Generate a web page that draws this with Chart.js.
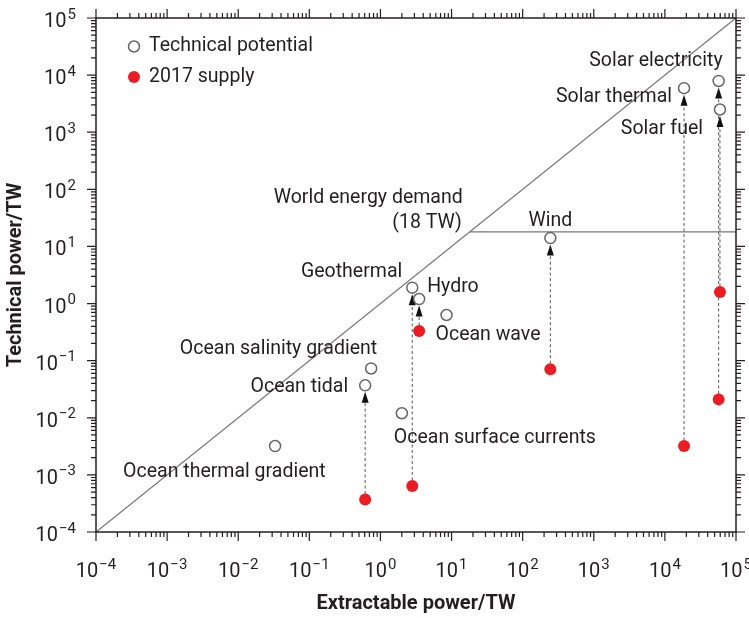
<!DOCTYPE html>
<html lang="en">
<head>
  <meta charset="UTF-8">
  <title>Technical potential vs extractable power</title>
  <script src="https://cdn.jsdelivr.net/npm/chart.js"></script>
  <style>
    body { margin: 0; background: #fff; }
    #wrap { width: 749px; height: 618px; }
  </style>
</head>
<body>
  <div id="wrap"><canvas id="powerChart"></canvas></div>

  <script>
    // resources (TW)
    const names = ['Ocean thermal gradient', 'Ocean tidal', 'Ocean salinity gradient', 'Ocean surface currents',
      'Geothermal', 'Hydro', 'Ocean wave', 'Wind', 'Solar thermal', 'Solar electricity', 'Solar fuel'];
    const extractable = [0.033, 0.61, 0.74, 2.0, 2.8, 3.5, 8.5, 245, 18600, 57000, 59500];
    const technical = [0.0032, 0.037, 0.073, 0.012, 1.9, 1.2, 0.63, 14, 5900, 7900, 2500];
    const supply2017 = [null, 0.00037, null, null, 0.00064, 0.33, null, 0.071, 0.0032, 0.021, 1.6];
    const worldDemand = 18;
    const axisMin = 1e-4, axisMax = 1e5;
    const tickExps = [-4, -3, -2, -1, 0, 1, 2, 3, 4, 5];

    const ink = '#231f20';
    const font = 'Roboto';
    const red = '#ec1c24';

    // where each name sits relative to its open circle: dx, dy, align
    const labelSpots = {
      'Ocean thermal gradient': [-152, 26, 'left'],
      'Ocean tidal': [-17, 2, 'right'],
      'Ocean salinity gradient': [6, -19, 'right'],
      'Ocean surface currents': [-8, 25, 'left'],
      'Geothermal': [-10, -16, 'right'],
      'Hydro': [8, -12, 'left'],
      'Ocean wave': [-11, 20, 'left'],
      'Wind': [0, -17, 'center'],
      'Solar thermal': [-12, 9, 'right'],
      'Solar electricity': [4, -20, 'right'],
      'Solar fuel': [-17, 20, 'right']
    };

    const potentialPts = names.map((n, i) => ({ x: extractable[i], y: technical[i] }));
    const supplyPts = names.map((n, i) => supply2017[i] == null ? null : { x: extractable[i], y: supply2017[i] }).filter(p => p);

    // "10" with a raised exponent
    function drawPow(ctx, v, x, y, align) {
      const exp = String(Math.round(Math.log10(v))).replace('-', '\u2212');
      ctx.font = '20px ' + font;
      const wb = ctx.measureText('10').width;
      ctx.font = '15px ' + font;
      const we = ctx.measureText(exp).width;
      const total = wb + 1 + we;
      const x0 = align === 'right' ? x - total : x - total / 2;
      ctx.textAlign = 'left';
      ctx.textBaseline = 'alphabetic';
      ctx.font = '20px ' + font;
      ctx.fillText('10', x0, y);
      ctx.font = '15px ' + font;
      ctx.fillText(exp, x0 + wb + 1, y - 8.5);
    }

    const decorations = {
      id: 'decorations',
      beforeDatasetsDraw(chart) {
        const { ctx, scales: { x, y } } = chart;
        ctx.save();
        names.forEach((n, i) => {
          if (supply2017[i] == null) return;
          const px = x.getPixelForValue(extractable[i]);
          const from = y.getPixelForValue(supply2017[i]);
          const tip = y.getPixelForValue(technical[i]) + 6.5;
          ctx.setLineDash([3, 2.5]);
          ctx.strokeStyle = '#555';
          ctx.lineWidth = 1;
          ctx.beginPath();
          ctx.moveTo(px, from);
          ctx.lineTo(px, tip + 9);
          ctx.stroke();
          ctx.setLineDash([]);
          ctx.fillStyle = '#111';
          ctx.beginPath();
          ctx.moveTo(px, tip);
          ctx.lineTo(px - 3.5, tip + 11);
          ctx.lineTo(px + 3.5, tip + 11);
          ctx.closePath();
          ctx.fill();
        });
        ctx.restore();
      },
      afterDraw(chart) {
        const { ctx, chartArea: a, scales: { x, y } } = chart;
        ctx.save();

        // frame
        ctx.strokeStyle = ink;
        ctx.lineWidth = 1.5;
        ctx.strokeRect(a.left, a.top, a.right - a.left, a.bottom - a.top);

        // log ticks on all four sides, pointing out
        ctx.lineWidth = 1.2;
        const vals = [];
        for (let e = -4; e < 5; e++) for (let k = 1; k <= 9; k++) vals.push([k * Math.pow(10, e), k === 1]);
        vals.push([axisMax, true]);
        ctx.beginPath();
        vals.forEach(([v, major]) => {
          const len = major ? 9 : 5;
          const px = x.getPixelForValue(v);
          const py = y.getPixelForValue(v);
          ctx.moveTo(px, a.bottom); ctx.lineTo(px, a.bottom + len);
          ctx.moveTo(px, a.top); ctx.lineTo(px, a.top - len);
          ctx.moveTo(a.left, py); ctx.lineTo(a.left - len, py);
          ctx.moveTo(a.right, py); ctx.lineTo(a.right + len, py);
        });
        ctx.stroke();

        // tick labels at the library's ticks
        ctx.fillStyle = ink;
        x.ticks.forEach(t => drawPow(ctx, t.value, x.getPixelForValue(t.value), a.bottom + 45, 'center'));
        y.ticks.forEach(t => drawPow(ctx, t.value, a.left - 20, y.getPixelForValue(t.value) + 9, 'right'));

        // names next to the circles
        ctx.font = '19.5px ' + font;
        ctx.textBaseline = 'middle';
        names.forEach((n, i) => {
          const [dx, dy, align] = labelSpots[n];
          ctx.textAlign = align;
          ctx.fillText(n, x.getPixelForValue(extractable[i]) + dx, y.getPixelForValue(technical[i]) + dy);
        });
        const dpx = x.getPixelForValue(worldDemand), dpy = y.getPixelForValue(worldDemand);
        ctx.textAlign = 'right';
        ctx.fillText('World energy demand', dpx - 7, dpy - 34);
        ctx.fillText('(' + worldDemand + ' TW)', dpx - 8, dpy - 9);

        // legend inside the plot
        const ds = chart.data.datasets;
        [[0, 28.5], [1, 59]].forEach(([di, off]) => {
          const cy = a.top + off;
          const cx = a.left + 38;
          ctx.beginPath();
          ctx.arc(cx, cy, di === 0 ? 5.5 : 6, 0, Math.PI * 2);
          ctx.fillStyle = ds[di].backgroundColor;
          ctx.fill();
          if (ds[di].borderWidth) {
            ctx.strokeStyle = ds[di].borderColor;
            ctx.lineWidth = ds[di].borderWidth;
            ctx.stroke();
          }
          ctx.fillStyle = ink;
          ctx.textAlign = 'left';
          ctx.fillText(ds[di].label, cx + 15, cy);
        });
        ctx.restore();
      }
    };

    const powTicks = s => { s.ticks = tickExps.map(e => ({ value: Math.pow(10, e) })); };

    new Chart(document.getElementById('powerChart'), {
      type: 'scatter',
      data: {
        datasets: [
          {
            label: 'Technical potential',
            data: potentialPts,
            pointRadius: 5.5,
            pointHoverRadius: 5.5,
            backgroundColor: '#ffffff',
            borderColor: '#666666',
            borderWidth: 1.5
          },
          {
            label: '2017 supply',
            data: supplyPts,
            pointRadius: 6,
            pointHoverRadius: 6,
            backgroundColor: red,
            borderColor: red,
            borderWidth: 0
          },
          {
            type: 'line',
            label: 'x = y',
            data: [{ x: axisMin, y: axisMin }, { x: axisMax, y: axisMax }],
            borderColor: '#777777',
            borderWidth: 1.3,
            pointRadius: 0
          },
          {
            type: 'line',
            label: 'World energy demand',
            data: [{ x: worldDemand, y: worldDemand }, { x: axisMax, y: worldDemand }],
            borderColor: '#777777',
            borderWidth: 1.3,
            pointRadius: 0
          }
        ]
      },
      options: {
        responsive: true,
        maintainAspectRatio: false,
        animation: false,
        layout: { padding: { top: 18, right: 13, left: 0, bottom: 0 } },
        plugins: {
          legend: { display: false },
          tooltip: { enabled: false }
        },
        scales: {
          x: {
            type: 'logarithmic',
            min: axisMin,
            max: axisMax,
            afterFit: s => { s.height = 86; s.paddingLeft = 0; s.paddingRight = 0; },
            afterBuildTicks: powTicks,
            grid: { display: false },
            border: { display: false },
            ticks: { display: false },
            title: {
              display: true,
              text: 'Extractable power/TW',
              color: ink,
              font: { family: font, size: 20, weight: 'bold' },
              padding: { top: 0, bottom: 2 }
            }
          },
          y: {
            type: 'logarithmic',
            min: axisMin,
            max: axisMax,
            afterFit: s => { s.width = 96; s.paddingTop = 0; s.paddingBottom = 0; },
            afterBuildTicks: powTicks,
            grid: { display: false },
            border: { display: false },
            ticks: { display: false },
            title: {
              display: true,
              text: 'Technical power/TW',
              color: ink,
              font: { family: font, size: 20, weight: 'bold' },
              padding: { top: 4, bottom: 0 }
            }
          }
        }
      },
      plugins: [decorations]
    });
  </script>
</body>
</html>
